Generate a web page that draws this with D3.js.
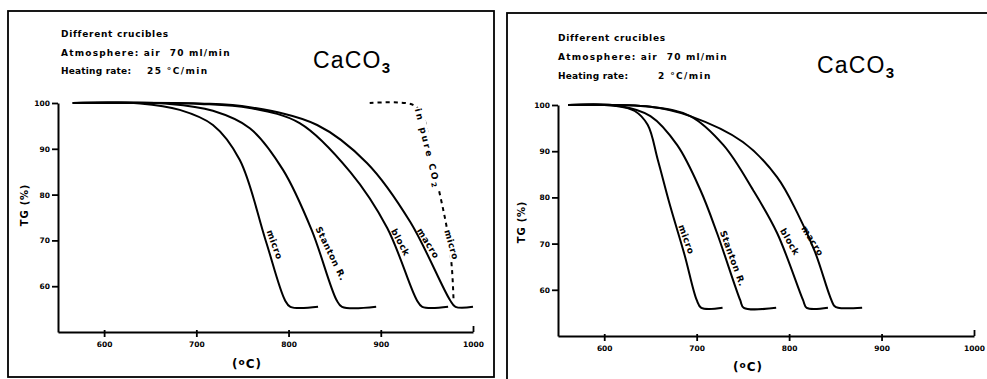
<!doctype html>
<html>
    <head>
        <script src="https://d3js.org/d3.v7.min.js"></script>
        <style>
            body,
            html {
                margin: 0;
                padding: 0;
                overflow: hidden;
                background: #fff;
            }
            text {
                font-family: "DejaVu Sans", sans-serif;
                font-weight: bold;
                fill: #000;
                white-space: pre;
            }
        </style>
    </head>
    <body>
        <script>
            // axes
            const tempTicks = [600, 700, 800, 900, 1000];
            const tgTicks = [60, 70, 80, 90, 100];
            const crucibles = ["micro", "Stanton R.", "block", "macro"];

            // 25 °C/min
            const fastMicroT = [566, 639, 682, 718, 747, 775, 796, 802, 832];
            const fastMicroTG = [100, 99.9, 98.5, 95.2, 87.6, 70.1, 57, 55.5, 55.5];
            const fastStantonT = [566, 671, 718, 758, 794, 825, 852, 858, 895];
            const fastStantonTG = [100, 99.8, 98.3, 94.5, 85.4, 72.3, 57, 55.5, 55.5];
            const fastBlockT = [566, 704, 758, 812, 867, 907, 939, 945, 973];
            const fastBlockTG = [100, 99.8, 98.9, 95.6, 84.9, 72.7, 57, 55.5, 55.5];
            const fastMacroT = [566, 704, 758, 831, 885, 932, 975, 981, 1000];
            const fastMacroTG = [100, 99.9, 99.1, 95.2, 86.9, 74, 57, 55.5, 55.5];
            const co2MicroT = [888, 935, 946, 955, 972, 977, 979];
            const co2MicroTG = [100, 99.6, 97, 88.2, 72.3, 64.2, 56.5];
            // label start on curve: temperature, TG, angle
            const fastLabelT = [773, 826, 908, 936];
            const fastLabelTG = [71.8, 72.3, 71.8, 71.8];
            const fastLabelAngle = [70, 64, 62, 58];

            // 2 °C/min
            const slowMicroT = [561, 612, 633, 647, 658, 671, 687, 700, 705, 728];
            const slowMicroTG = [100, 99.8, 98.7, 95.7, 88.1, 78.4, 67.5, 57.8, 56.1, 56.1];
            const slowStantonT = [561, 617, 650, 679, 704, 722, 747, 751, 786];
            const slowStantonTG = [100, 99.8, 97.6, 91.3, 81.6, 72.3, 57.8, 56.1, 56.1];
            const slowBlockT = [561, 650, 693, 729, 761, 787, 815, 819, 842];
            const slowBlockTG = [100, 99.6, 97.6, 91.3, 81.6, 72.3, 57.8, 56.1, 56.1];
            const slowMacroT = [561, 650, 693, 750, 787, 809, 828, 844, 849, 853, 879];
            const slowMacroTG = [100, 99.6, 97.6, 92, 84.4, 76.6, 68.2, 58.7, 56.5, 56.1, 56.1];
            const slowLabelT = [677, 722, 787, 810];
            const slowLabelTG = [73.6, 72.3, 72.5, 73];
            const slowLabelAngle = [70, 70, 60, 58];

            const width = 987;
            const height = 379;
            const svg = d3
                .create("svg")
                .attr("width", width)
                .attr("height", height)
                .attr("viewBox", [0, 0, width, height]);

            document.body.appendChild(svg.node());

            const zip = (t, v) => t.map((d, i) => [d, v[i]]);

            const panels = [
                {
                    frame: [8, 11, 486, 366],
                    x: [58, 473],
                    y: [332, 103],
                    rate: "25 °C/min",
                    rateX: 147,
                    textX: 61,
                    textY: [37, 56, 74],
                    formula: [313, 68],
                    yTitle: [28, 205],
                    xTitle: [247, 368],
                    series: [
                        zip(fastMicroT, fastMicroTG),
                        zip(fastStantonT, fastStantonTG),
                        zip(fastBlockT, fastBlockTG),
                        zip(fastMacroT, fastMacroTG),
                    ],
                    labels: fastLabelT.map((t, i) => [t, fastLabelTG[i], fastLabelAngle[i]]),
                    co2: true,
                },
                {
                    frame: [507, 13, 500, 380],
                    x: [558, 974],
                    y: [336, 105],
                    rate: "2 °C/min",
                    rateX: 658,
                    textX: 558,
                    textY: [41, 60, 79],
                    formula: [817, 73],
                    yTitle: [525, 222],
                    xTitle: [748, 371],
                    series: [
                        zip(slowMicroT, slowMicroTG),
                        zip(slowStantonT, slowStantonTG),
                        zip(slowBlockT, slowBlockTG),
                        zip(slowMacroT, slowMacroTG),
                    ],
                    labels: slowLabelT.map((t, i) => [t, slowLabelTG[i], slowLabelAngle[i]]),
                    co2: false,
                },
            ];

            // label sitting on a line, with a white box hiding the line under it
            function inlineLabel(g, tx, ty, angle, spacing) {
                const lg = g
                    .append("g")
                    .attr("transform", `translate(${tx},${ty}) rotate(${angle})`);
                const bg = lg.append("rect").attr("fill", "#fff");
                const t = lg
                    .append("text")
                    .attr("dy", 3)
                    .attr("font-size", 9)
                    .attr("letter-spacing", spacing);
                return { t, fit: () => {
                    const b = t.node().getBBox();
                    bg.attr("x", b.x - 1).attr("y", b.y).attr("width", b.width + 1).attr("height", b.height);
                } };
            }

            panels.forEach((p) => {
                const g = svg.append("g");

                g.append("rect")
                    .attr("x", p.frame[0])
                    .attr("y", p.frame[1])
                    .attr("width", p.frame[2])
                    .attr("height", p.frame[3])
                    .attr("fill", "none")
                    .attr("stroke", "#000")
                    .attr("stroke-width", 1.8);

                const x = d3.scaleLinear().domain([550, 1000]).range(p.x);
                const y = d3.scaleLinear().domain([50, 100]).range(p.y);

                // header text
                const head = g.append("g").attr("font-size", 9);
                head.append("text")
                    .attr("x", p.textX)
                    .attr("y", p.textY[0])
                    .attr("letter-spacing", 0.7)
                    .text("Different crucibles");
                head.append("text")
                    .attr("x", p.textX)
                    .attr("y", p.textY[1])
                    .attr("letter-spacing", 1.2)
                    .text("Atmosphere: air  70 ml/min");
                head.append("text")
                    .attr("x", p.textX)
                    .attr("y", p.textY[2])
                    .attr("letter-spacing", 0.2)
                    .text("Heating rate:");
                head.append("text")
                    .attr("x", p.rateX)
                    .attr("y", p.textY[2])
                    .attr("letter-spacing", 1.4)
                    .text(p.rate);

                const f = g
                    .append("text")
                    .attr("x", p.formula[0])
                    .attr("y", p.formula[1])
                    .style("font-family", "'Liberation Sans', Arial, sans-serif")
                    .style("font-weight", "normal")
                    .attr("font-size", 23)
                    .attr("letter-spacing", 1.2);
                f.append("tspan").text("CaCO");
                f.append("tspan")
                    .attr("dy", 5)
                    .attr("font-size", 15)
                    .style("font-weight", "bold")
                    .text("3");

                // axes
                const yAxis = g
                    .append("g")
                    .attr("transform", `translate(${p.x[0]},0)`)
                    .call(
                        d3
                            .axisLeft(y)
                            .tickValues(tgTicks)
                            .tickSize(6)
                            .tickSizeOuter(0)
                            .tickPadding(2)
                    );

                const xAxis = g
                    .append("g")
                    .attr("transform", `translate(0,${p.y[0]})`)
                    .call(
                        d3
                            .axisBottom(x)
                            .tickValues(tempTicks)
                            .tickFormat(d3.format("d"))
                            .tickSize(5)
                            .tickSizeOuter(0)
                            .tickPadding(5)
                    );
                xAxis.selectAll(".tick line").attr("y1", -2);
                xAxis.selectAll(".tick:last-of-type line").attr("y1", -6).attr("y2", 0);

                [yAxis, xAxis].forEach((a) => {
                    a.select(".domain").attr("stroke-width", 2);
                    a.selectAll(".tick line").attr("stroke-width", 1.8);
                    a.selectAll("text")
                        .attr("font-size", 7.5)
                        .style("font-family", "'DejaVu Sans', sans-serif")
                        .style("font-weight", "bold");
                });

                g.append("text")
                    .attr("transform", `translate(${p.yTitle[0]},${p.yTitle[1]}) rotate(-90)`)
                    .attr("text-anchor", "middle")
                    .attr("font-size", 10)
                    .attr("letter-spacing", 0.8)
                    .text("TG (%)");

                const xt = g
                    .append("text")
                    .attr("x", p.xTitle[0])
                    .attr("y", p.xTitle[1])
                    .attr("text-anchor", "middle")
                    .attr("font-size", 12)
                    .attr("letter-spacing", 1)
                    .text("(");
                xt.append("tspan").attr("dy", -3).attr("font-size", 9).text("o");
                xt.append("tspan").attr("dy", 3).text("C)");

                // curves
                const line = d3
                    .line()
                    .x((d) => x(d[0]))
                    .y((d) => y(d[1]))
                    .curve(d3.curveCatmullRom.alpha(0.5));

                g.append("g")
                    .selectAll("path")
                    .data(p.series)
                    .join("path")
                    .attr("d", line)
                    .attr("fill", "none")
                    .attr("stroke", "#000")
                    .attr("stroke-width", 2)
                    .attr("stroke-linejoin", "round");

                g.append("g")
                    .selectAll("text")
                    .data(p.labels)
                    .join("text")
                    .attr("transform", (d) => `translate(${x(d[0])},${y(d[1])}) rotate(${d[2]})`)
                    .attr("dy", -3)
                    .attr("font-size", 9)
                    .attr("letter-spacing", 0.5)
                    .text((d, i) => crucibles[i]);

                if (p.co2) {
                    const co2 = zip(co2MicroT, co2MicroTG);
                    g.append("path")
                        .attr("d", line(co2))
                        .attr("fill", "none")
                        .attr("stroke", "#000")
                        .attr("stroke-width", 2)
                        .attr("stroke-dasharray", "4,4");

                    const a = inlineLabel(g, x(940), y(98.8), 76, 2.2);
                    a.t.text("in pure CO");
                    a.t.append("tspan").attr("dy", 2).attr("font-size", 7).text("2");
                    a.fit();

                    const b = inlineLabel(g, x(972), y(72.3), 74, 0.5);
                    b.t.text("micro");
                    b.fit();
                }
            });
        </script>
    </body>
</html>
